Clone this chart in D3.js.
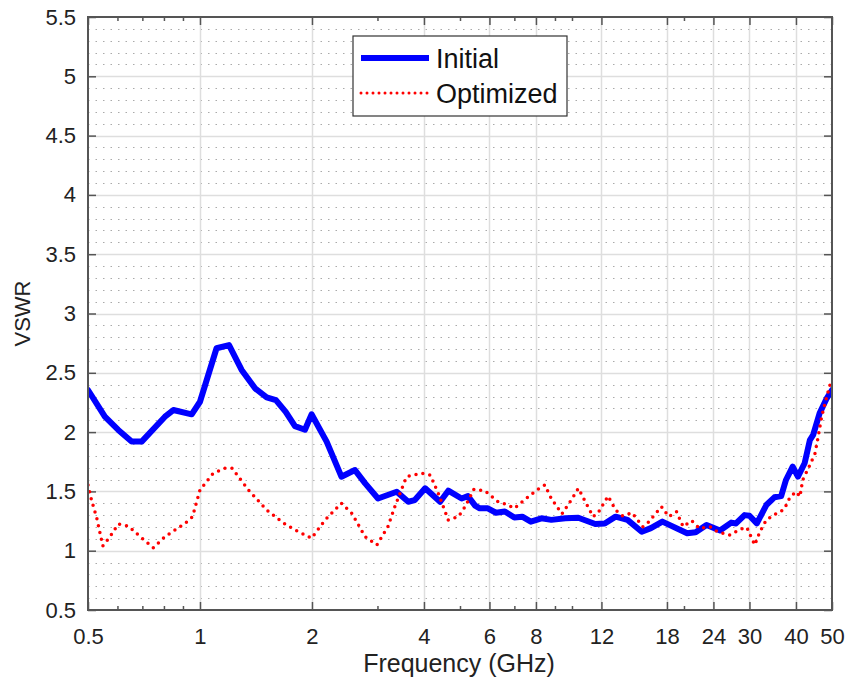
<!DOCTYPE html>
<html>
<head>
<meta charset="utf-8">
<script src="https://cdn.jsdelivr.net/npm/d3@7"></script>
<style>
  html, body { margin: 0; padding: 0; background: #fff; }
  svg { display: block; font-family: "Liberation Sans", Arial, Helvetica, sans-serif; }
</style>
</head>
<body>
<svg id="chart" width="862" height="686"></svg>
<script>
// ---- Data ----
const freqInitial = [0.50,0.555,0.603,0.655,0.697,0.805,0.848,0.95,1.0,1.108,1.197,1.294,1.406,1.511,1.60,1.70,1.80,1.915,1.995,2.19,2.40,2.61,2.78,3.01,3.38,3.63,3.78,4.03,4.42,4.65,5.05,5.25,5.49,5.65,5.94,6.25,6.6,7.0,7.35,7.75,8.28,8.8,9.6,10.4,11.55,12.25,13.1,14.1,15.4,16.3,17.5,20.4,21.5,23.0,25.0,26.8,27.6,29.1,30.0,31.4,33.3,35.0,36.5,37.6,39.2,40.5,42.2,43.6,44.5,46.3,48.4,50];
const vswrInitial = [2.355,2.13,2.018,1.92,1.92,2.13,2.186,2.15,2.256,2.707,2.734,2.524,2.369,2.293,2.27,2.17,2.05,2.02,2.15,1.92,1.624,1.68,1.568,1.44,1.497,1.413,1.427,1.526,1.413,1.506,1.44,1.46,1.38,1.357,1.357,1.32,1.33,1.28,1.287,1.245,1.273,1.26,1.273,1.278,1.225,1.23,1.287,1.26,1.16,1.19,1.245,1.147,1.155,1.217,1.17,1.237,1.23,1.30,1.295,1.23,1.385,1.45,1.46,1.596,1.708,1.624,1.737,1.933,1.976,2.158,2.285,2.355];

const freqOptimized = [0.50,0.511,0.528,0.548,0.573,0.603,0.642,0.683,0.749,0.805,0.912,0.955,1.0,1.085,1.168,1.22,1.35,1.511,1.68,1.80,1.995,2.17,2.40,2.56,2.78,2.99,3.2,3.34,3.59,3.94,4.16,4.37,4.65,4.95,5.16,5.45,5.83,6.33,6.74,7.0,7.53,8.05,8.45,8.8,9.4,9.98,10.4,11.4,11.76,12.5,13.1,13.7,14.5,15.5,16.0,17.4,18.2,19.1,19.9,21.0,22.0,23.5,24.6,26.6,28.3,29.5,31.0,32.0,33.3,35.5,37.2,38.6,40.1,41.0,41.7,43.6,45.0,45.9,46.9,48.4,49.8];
const vswrOptimized = [1.554,1.427,1.273,1.04,1.118,1.225,1.208,1.132,1.025,1.118,1.231,1.287,1.512,1.653,1.695,1.695,1.512,1.343,1.231,1.175,1.105,1.259,1.40,1.315,1.118,1.048,1.202,1.371,1.624,1.653,1.638,1.484,1.259,1.287,1.371,1.518,1.506,1.413,1.385,1.357,1.44,1.512,1.554,1.44,1.31,1.433,1.526,1.287,1.32,1.46,1.343,1.293,1.32,1.202,1.236,1.371,1.287,1.329,1.202,1.253,1.189,1.202,1.16,1.132,1.18,1.197,1.048,1.16,1.259,1.315,1.349,1.455,1.497,1.455,1.596,1.722,1.82,1.96,2.13,2.30,2.44];

const xTickValues = [0.5,1,2,4,6,8,12,18,24,30,40,50];
const xTickLabels = ["0.5","1","2","4","6","8","12","18","24","30","40","50"];
const xMinorTicks = [0.6,0.7,0.8,0.9,3,5,7,9,10,20];
const yTickValues = [0.5,1,1.5,2,2.5,3,3.5,4,4.5,5,5.5];
const yMinorGrid = d3.range(5, 55).map(d => d / 10).filter(v => Math.abs(v * 2 - Math.round(v * 2)) > 1e-6);
const seriesNames = ["Initial", "Optimized"];

// ---- Layout ----
const margin = { left: 88, top: 17, right: 30, bottom: 76 };
const W = 862, H = 686;
const iw = W - margin.left - margin.right;   // 744
const ih = H - margin.top - margin.bottom;   // 593

const svg = d3.select("#chart");
const g = svg.append("g").attr("transform", `translate(${margin.left},${margin.top})`);

const x = d3.scaleLog().domain([0.5, 50]).range([0, iw]);
const y = d3.scaleLinear().domain([0.5, 5.5]).range([ih, 0]);

// Minor horizontal grid (dotted)
g.append("g").selectAll("line").data(yMinorGrid).join("line")
  .attr("x1", 0).attr("x2", iw)
  .attr("y1", d => Math.round(y(d)) + 0.5).attr("y2", d => Math.round(y(d)) + 0.5)
  .attr("stroke", "#aaaaaa").attr("stroke-width", 1)
  .attr("stroke-dasharray", "1.5,6");

// Major grid
g.append("g").selectAll("line").data(yTickValues.slice(1, -1)).join("line")
  .attr("x1", 0).attr("x2", iw)
  .attr("y1", d => Math.round(y(d)) + 0.5).attr("y2", d => Math.round(y(d)) + 0.5)
  .attr("stroke", "#dedede").attr("stroke-width", 1.5);
g.append("g").selectAll("line").data(xTickValues.slice(1, -1)).join("line")
  .attr("y1", 0).attr("y2", ih)
  .attr("x1", d => Math.round(x(d)) + 0.5).attr("x2", d => Math.round(x(d)) + 0.5)
  .attr("stroke", "#dedede").attr("stroke-width", 1.5);

// Axes with inward ticks
const axisColor = "#555";
const xAxisB = d3.axisBottom(x).tickValues(xTickValues).tickFormat((d, i) => xTickLabels[i]).tickSizeInner(-8).tickSizeOuter(0).tickPadding(18);
const xAxisT = d3.axisTop(x).tickValues(xTickValues).tickFormat("").tickSizeInner(-8).tickSizeOuter(0);
const xMinB = d3.axisBottom(x).tickValues(xMinorTicks).tickFormat("").tickSizeInner(-4).tickSizeOuter(0);
const xMinT = d3.axisTop(x).tickValues(xMinorTicks).tickFormat("").tickSizeInner(-4).tickSizeOuter(0);
const yAxisL = d3.axisLeft(y).tickValues(yTickValues).tickFormat(d3.format("")).tickSizeInner(-8).tickSizeOuter(0).tickPadding(12);
const yAxisR = d3.axisRight(y).tickValues(yTickValues).tickFormat("").tickSizeInner(-8).tickSizeOuter(0);

function styleAxis(sel) {
  sel.select(".domain").remove();
  sel.selectAll(".tick line").attr("stroke", axisColor).attr("stroke-width", 1.5);
  sel.selectAll(".tick text").attr("fill", "#222").style("font-size", "22px")
     .style("font-family", "'Liberation Sans', Arial, sans-serif");
}
g.append("g").attr("transform", `translate(0,${ih})`).call(xAxisB).call(styleAxis);
g.append("g").call(xAxisT).call(styleAxis);
g.append("g").attr("transform", `translate(0,${ih})`).call(xMinB).call(styleAxis);
g.append("g").call(xMinT).call(styleAxis);
g.append("g").call(yAxisL).call(styleAxis);
g.append("g").attr("transform", `translate(${iw},0)`).call(yAxisR).call(styleAxis);

// Clip
svg.append("defs").append("clipPath").attr("id", "clip")
  .append("rect").attr("x", 0).attr("y", 0).attr("width", iw).attr("height", ih);

const line = d3.line().x(d => x(d[0])).y(d => y(d[1]));
const plot = g.append("g").attr("clip-path", "url(#clip)");

// Lines
plot.append("path")
  .datum(freqInitial.map((f, i) => [f, vswrInitial[i]]))
  .attr("d", line).attr("fill", "none")
  .attr("stroke", "#0000ff").attr("stroke-width", 6)
  .attr("stroke-linejoin", "round").attr("stroke-linecap", "round");

plot.append("path")
  .datum(freqOptimized.map((f, i) => [f, vswrOptimized[i]]))
  .attr("d", line).attr("fill", "none")
  .attr("stroke", "#ff0000").attr("stroke-width", 3.5)
  .attr("stroke-dasharray", "0,7").attr("stroke-linecap", "round");

// Box
g.append("rect").attr("x", 0).attr("y", 0).attr("width", iw).attr("height", ih)
  .attr("fill", "none").attr("stroke", axisColor).attr("stroke-width", 2);

// Axis labels
svg.append("text")
  .attr("x", margin.left + iw / 2 - 1).attr("y", 672)
  .attr("text-anchor", "middle").attr("fill", "#222")
  .style("font-size", "25px").text("Frequency (GHz)");

svg.append("text")
  .attr("transform", `translate(30,${margin.top + ih / 2}) rotate(-90)`)
  .attr("text-anchor", "middle").attr("fill", "#222")
  .style("font-size", "22px").text("VSWR");

// Legend
const leg = svg.append("g").attr("transform", "translate(353,36)");
leg.append("rect").attr("width", 214).attr("height", 80)
  .attr("fill", "#fff").attr("stroke", "#333").attr("stroke-width", 1.2);
const legStyles = [
  { color: "#0000ff", width: 6, dash: null, cap: "butt" },
  { color: "#ff0000", width: 3, dash: "0,6", cap: "round" }
];
seriesNames.forEach((name, i) => {
  const yy = 22 + i * 35;
  const s = legStyles[i];
  const ln = leg.append("line").attr("x1", 8).attr("x2", 76).attr("y1", yy).attr("y2", yy)
    .attr("stroke", s.color).attr("stroke-width", s.width).attr("stroke-linecap", s.cap);
  if (s.dash) ln.attr("stroke-dasharray", s.dash);
  leg.append("text").attr("x", 83).attr("y", yy + 10)
    .attr("fill", "#111").style("font-size", "27px").text(name);
});
</script>
</body>
</html>
